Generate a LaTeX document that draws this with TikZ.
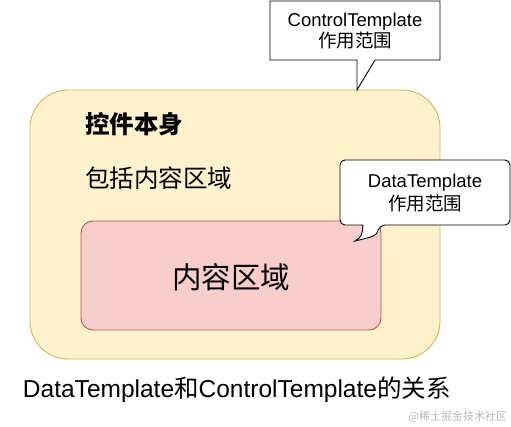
\documentclass[tikz,border=0pt]{standalone}
\usepackage{fontspec}
\setmainfont{Liberation Sans}
\newfontfamily\cjk{Noto Sans CJK SC}
\definecolor{ylfill}{HTML}{FFF2CC}
\definecolor{yldraw}{HTML}{D6B656}
\definecolor{rdfill}{HTML}{F8CECC}
\definecolor{rddraw}{HTML}{B85450}
\definecolor{wmark}{HTML}{BBBBBB}
\tikzset{
  txt/.style={inner sep=0pt, outer sep=0pt, text=black},
  callout/.style={fill=white, draw=black, line width=0.9pt, line join=miter},
}
\begin{document}
\begin{tikzpicture}[x=1pt,y=-1pt]
\useasboundingbox (0,0) rectangle (511,426);
% outer control box
\draw[fill=ylfill, draw=yldraw, line width=0.9pt, rounded corners=38pt] (30,90) rectangle (440,359);
\coordinate (ctrltip) at (357,90);
% inner content box
\node[draw=rddraw, fill=rdfill, line width=0.9pt, rounded corners=12pt, minimum width=300pt, minimum height=109pt, inner sep=0pt] (content) at (231,275.5) {};
\node[txt, font=\cjk\fontsize{29.5}{32}\selectfont] (contentlbl) at (231,277) {内容区域};
% labels in control box
\node[txt, anchor=west, font=\cjk\bfseries\fontsize{24.5}{27}\selectfont] (self) at (85,124) {控件本身};
\node[txt, anchor=west, font=\cjk\fontsize{24.5}{27}\selectfont] (incl) at (85,178) {包括内容区域};
% ControlTemplate callout
\draw[callout] (270,1) -- (440,1) -- (440,60) -- (375,60) -- (ctrltip) -- (357,60) -- (270,60) -- cycle;
\node[txt, align=center, font=\fontsize{18.5}{21.5}\selectfont] (ctl) at (355,31) {ControlTemplate\\{\cjk 作用范围}};
% DataTemplate callout
\coordinate (datatip) at (355,241);
\draw[callout, rounded corners=5pt] (340,160) -- (510,160) -- (510,225) -- (380,225)
  [sharp corners] .. controls (376,236) .. (datatip) .. controls (362,236) .. (363,225)
  [rounded corners=5pt] -- (340,225) -- cycle;
\node[txt, align=center, font=\fontsize{18.5}{22.5}\selectfont] (dat) at (425,193) {DataTemplate\\{\cjk 作用范围}};
% caption
\node[txt, anchor=west, font=\fontsize{24.5}{27}\selectfont] (caption) at (23,390) {DataTemplate{\cjk 和}ControlTemplate{\cjk 的关系}};
% watermark
\node[txt, anchor=east, text=wmark, font=\cjk\fontsize{11}{12}\selectfont] (wm) at (507,417) {@稀土掘金技术社区};
\end{tikzpicture}
\end{document}
